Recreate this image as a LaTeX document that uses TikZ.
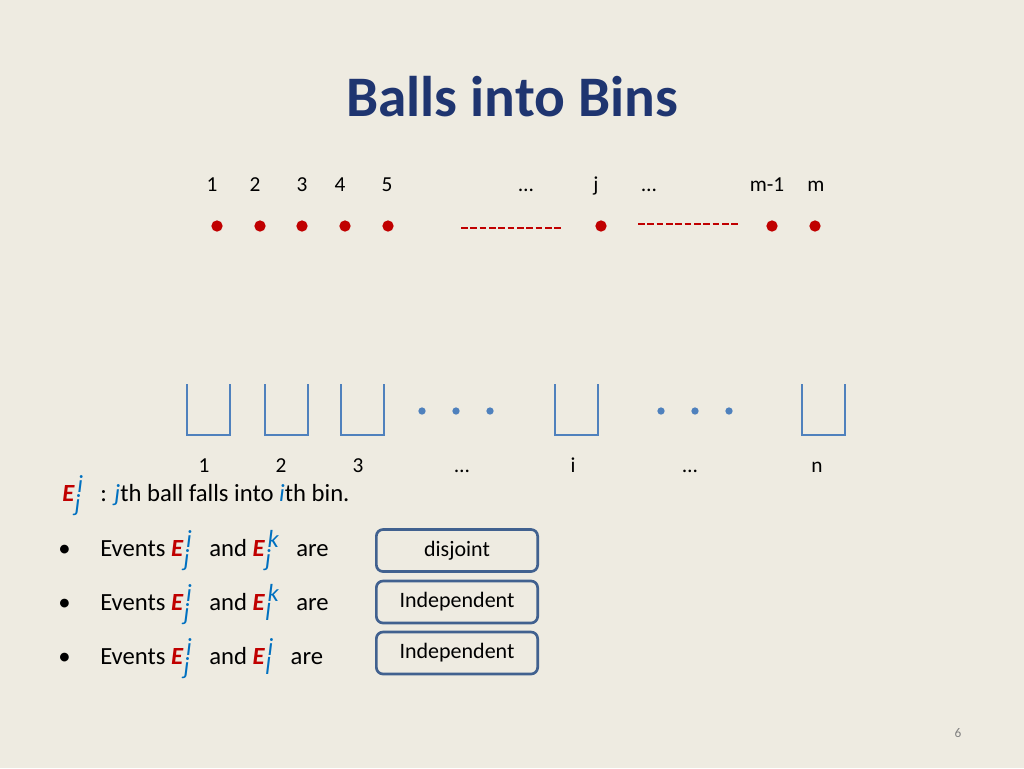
\documentclass[tikz,border=0pt]{standalone}
\usepackage{fontspec}
\setmainfont{Carlito}
\definecolor{bg}{HTML}{EEEBE1}
\definecolor{ttl}{HTML}{1F3570}
\definecolor{rd}{HTML}{C00000}
\definecolor{bl}{HTML}{4F81BD}
\definecolor{mb}{HTML}{0070C0}
\definecolor{bx}{HTML}{41618F}
\newcommand{\EE}[2]{{\color{rd}\textbf{\textit{E}}}$_{\textcolor{mb}{\textit{#1}}}^{\,\textcolor{mb}{\textit{#2}}}$}
\begin{document}
\begin{tikzpicture}[x=0.75pt,y=-0.75pt,
  lab/.style={font=\fontsize{16}{19}\selectfont,inner sep=0,anchor=base},
  txt/.style={font=\fontsize{18.5}{22}\selectfont,inner sep=0,anchor=base west},
  ball/.style={circle,fill=rd,inner sep=0,minimum size=8.5pt},
  bin/.style={draw=bl,line width=1.6pt},
  bdot/.style={circle,fill=bl,inner sep=0,minimum size=5.5pt},
  tbox/.style={draw=bx,line width=2pt,rounded corners=5pt,minimum width=121pt,minimum height=31.5pt,font=\fontsize{16.5}{19}\selectfont}]
\fill[bg] (0,0) rectangle (1024,768);
\useasboundingbox (0,0) rectangle (1024,768);
\node[font=\fontsize{43}{48}\selectfont\bfseries,text=ttl,anchor=base] (title) at (512,116) {Balls into Bins};
\foreach \x/\t/\n in {212/1/a,255/2/b,302/3/c,340/4/d,387/5/e,526/…/f,596/j/g,649/…/h,767/m-1/i,816/m/k}
  \node[lab] (t\n) at (\x,191) {\t};
\foreach \x/\n in {217/1,260/2,302/3,345/4,388/5,601/6,772/7,815/8}
  \node[ball] (b\n) at (\x,226) {};
\coordinate (d1) at (461,228); \coordinate (d2) at (561,228);
\coordinate (d3) at (638,224); \coordinate (d4) at (740,224);
\draw[rd,line width=1.3pt,dash pattern=on 5pt off 2pt] (d1) -- (d2);
\draw[rd,line width=1.3pt,dash pattern=on 5pt off 2pt] (d3) -- (d4);
\foreach \x in {187,265,341,555,802}
  \draw[bin] (\x,384) -- (\x,435) -- (\x+43,435) -- (\x+43,384);
\foreach \x in {422,456,490,661,695,729}
  \node[bdot] at (\x,411) {};
\foreach \x/\t/\n in {204/1/a,281/2/b,358/3/c,462/…/d,573/i/e,690/…/f,817/n/g}
  \node[lab] (n\n) at (\x,472) {\t};
\node[txt] (def) at (62,501) {\EE{j}{i}\ \ \ : \textcolor{mb}{\textit{j}}th ball falls into \textcolor{mb}{\textit{i}}th bin.};
\foreach \y/\a/\b/\c/\d/\n in {549/j/i/j/k/1,603/j/i/l/k/2,657/j/i/l/i/3}{
  \node[txt] (bu\n) at (58,\y+7) {•};
  \node[txt] (ev\n) at (100,\y+7) {Events \EE{\a}{\b}\ \ \ and \EE{\c}{\d}\ \ \ are};
}
\node[tbox] (x1) at (457,550.5) {disjoint};
\node[tbox] (x2) at (457,602) {Independent};
\node[tbox] (x3) at (457,653) {Independent};
\node[text=gray,font=\fontsize{10}{12}\selectfont,inner sep=0] (pg) at (958,733) {6};
\end{tikzpicture}
\end{document}
